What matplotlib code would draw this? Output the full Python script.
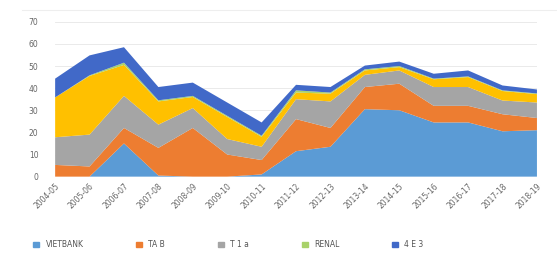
import numpy as np
import matplotlib.pyplot as plt

# --------------------------------------------------------------------
# Dades (llegides a ull de la figura)
# --------------------------------------------------------------------
periods = ["2004-05", "2005-06", "2006-07", "2007-08", "2008-09", "2009-10",
           "2010-11", "2011-12", "2012-13", "2013-14", "2014-15", "2015-16",
           "2016-17", "2017-18", "2018-19"]

s_blue = [0, 0, 15, 0.5, 0, 0, 1, 11.5, 13.5, 30.5, 30, 24.5, 24.5, 20.5, 21]
s_orange = [5.3, 4.6, 7, 12.5, 22, 10, 6.5, 14.5, 8.5, 10, 12, 7.5, 7.5, 7.7, 5.5]
s_gray = [12.5, 14.4, 14.5, 10.5, 9, 7, 6, 9, 12, 5.5, 6, 8.5, 8.5, 6.2, 7]
s_gold = [18, 26.5, 14, 10.5, 5, 10, 4.5, 3, 3.5, 2, 1.5, 3.5, 4.5, 4.3, 3.8]
s_green = [0, 0.3, 1, 0.5, 0.5, 0.5, 0.5, 1, 0.5, 0.5, 0.5, 0.3, 0.3, 0.3, 0.3]
s_dark = [8.5, 9, 7, 6, 6, 6, 6, 2.5, 2.5, 1.7, 2, 2.2, 2.7, 2.2, 1.8]

labels = ["VIETBANK", "TA B", "T 1 a", "RENAL", "4 E 3"]

colors = ["#5B9BD5", "#ED7D31", "#A5A5A5", "#FFC000", "#A9D26A", "#4169C8"]

# --------------------------------------------------------------------
# Figura
# --------------------------------------------------------------------
fig = plt.figure(figsize=(5.57, 2.56), dpi=100)
ax = fig.add_axes([0.099, 0.31, 0.865, 0.605])

x = np.arange(len(periods))
ax.stackplot(x, s_blue, s_orange, s_gray, s_gold, s_green, s_dark,
             colors=colors, zorder=2)

ax.set_xlim(0, len(periods) - 1)
ax.set_ylim(0, 70)
ax.set_yticks(range(0, 71, 10))
ax.grid(axis="y", color="#E6E6E6", linewidth=0.6, zorder=0)
ax.set_axisbelow(True)

for sp in ax.spines.values():
    sp.set_visible(False)

ax.tick_params(axis="both", length=0, labelsize=5.5, labelcolor="#666666")
ax.tick_params(axis="y", pad=12)
ax.set_xticks(x)
ax.set_xticklabels(periods, rotation=45, ha="right", rotation_mode="anchor")

# llegenda: només les cinc primeres sèries (com a la figura)
handles = [plt.Rectangle((0, 0), 1, 1, color=c) for c in
           [colors[0], colors[1], colors[2], colors[4], colors[5]]]
fig.legend(handles, labels, loc="lower center", ncol=5, frameon=False,
           fontsize=5.5, bbox_to_anchor=(0.41, 0.0), handlelength=0.8,
           handleheight=0.5, columnspacing=6.9, labelcolor="#555555")

fig.add_artist(plt.Line2D([0.04, 1.0], [0.96, 0.96], color="#EEEEEE",
                          linewidth=0.8))

fig.savefig("out.png", dpi=100)
